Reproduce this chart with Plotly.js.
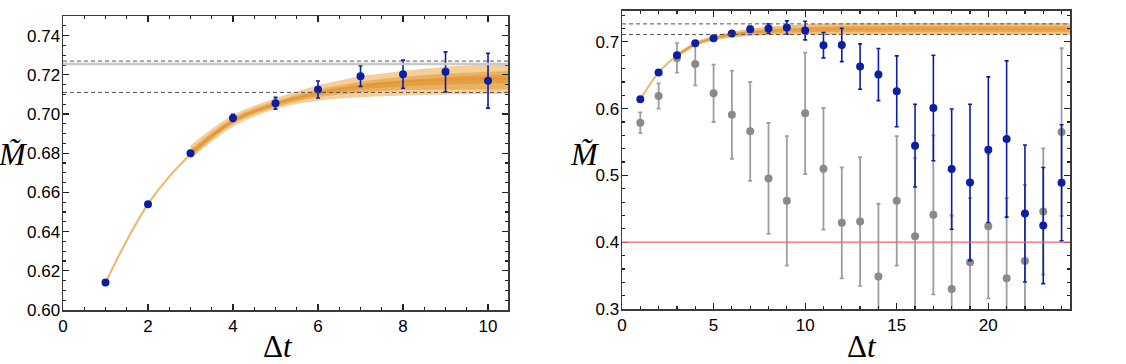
<!DOCTYPE html>
<html>
<head>
<meta charset="utf-8">
<script src="https://cdn.plot.ly/plotly-3.0.1.min.js"></script>
<style>
  html, body { margin: 0; padding: 0; background: #fff; }
  #graph { width: 1126px; height: 364px; }
</style>
</head>
<body>
<div id="graph"></div>
<script>
// --- left panel: data points ---
var tL = [1, 2, 3, 4, 5, 6, 7, 8, 9, 10];
var mL = [0.614, 0.654, 0.680, 0.698, 0.7055, 0.7125, 0.7193, 0.7203, 0.7215, 0.717];
var eL = [0.0008, 0.0008, 0.0012, 0.0018, 0.003, 0.0043, 0.0053, 0.0072, 0.0102, 0.014];

// fit curve (thin line) and bands
var tFitL = [1, 1.5, 2, 2.5, 3, 4, 5, 6, 7, 8, 9, 10, 10.5];
var mFitL = [0.614, 0.6355, 0.654, 0.668, 0.6795, 0.6965, 0.7055, 0.711, 0.7145, 0.7165, 0.7175, 0.718, 0.718];
var tBandL = [3, 4, 5, 6, 7, 8, 9, 10, 10.5];
var outerUpL = [0.684, 0.6995, 0.708, 0.7145, 0.7192, 0.722, 0.724, 0.7252, 0.7255];
var outerLoL = [0.677, 0.6935, 0.7025, 0.7068, 0.7085, 0.7095, 0.710, 0.7102, 0.7103];
var midUpL = [0.682, 0.698, 0.7065, 0.7125, 0.7165, 0.719, 0.7205, 0.7215, 0.722];
var midLoL = [0.6775, 0.695, 0.7035, 0.7085, 0.711, 0.7122, 0.7125, 0.7125, 0.7125];
var coreUpL = [0.681, 0.697, 0.7055, 0.7112, 0.7148, 0.7172, 0.7188, 0.7198, 0.720];
var coreLoL = [0.679, 0.6955, 0.7045, 0.7095, 0.7125, 0.714, 0.715, 0.7156, 0.7158];

// --- right panel: data points ---
var tR = [1, 2, 3, 4, 5, 6, 7, 8, 9, 10, 11, 12, 13, 14, 15, 16, 17, 18, 19, 20, 21, 22, 23, 24];
var mBlue = [0.614, 0.654, 0.680, 0.698, 0.7055, 0.7125, 0.719, 0.720, 0.7215, 0.717, 0.695, 0.6955,
             0.663, 0.651, 0.626, 0.5446, 0.601, 0.5095, 0.4895, 0.5386, 0.5546, 0.443, 0.425, 0.489];
var eBlue = [0.001, 0.001, 0.0015, 0.002, 0.003, 0.004, 0.0045, 0.007, 0.010, 0.014, 0.019, 0.025,
             0.034, 0.039, 0.053, 0.062, 0.079, 0.090, 0.117, 0.109, 0.117, 0.1025, 0.087, 0.087];
var mGray = [0.579, 0.619, 0.676, 0.667, 0.623, 0.591, 0.566, 0.4955, 0.462, 0.593, 0.510, 0.429,
             0.431, 0.3486, 0.462, 0.409, 0.441, 0.330, 0.370, 0.424, 0.346, 0.372, 0.446, 0.565];
var eGray = [0.0155, 0.019, 0.022, 0.032, 0.043, 0.066, 0.074, 0.083, 0.097, 0.091, 0.091, 0.083,
             0.0965, 0.109, 0.097, 0.117, 0.119, 0.110, 0.096, 0.108, 0.120, 0.114, 0.0945, 0.1255];

var tFitR = [1, 1.5, 2, 2.5, 3, 4, 5, 6, 7, 8, 9, 10, 12, 15, 20, 24.5];
var mFitR = [0.614, 0.6355, 0.654, 0.668, 0.6795, 0.6965, 0.7055, 0.711, 0.7145, 0.7165, 0.718, 0.7185, 0.719, 0.719, 0.719, 0.719];
var tBandR = [3, 4, 5, 6, 7, 8, 9, 10, 11, 12, 24.5];
var outerUpR = [0.683, 0.700, 0.709, 0.715, 0.7195, 0.7225, 0.725, 0.7265, 0.7275, 0.728, 0.728];
var outerLoR = [0.676, 0.693, 0.702, 0.7065, 0.709, 0.710, 0.7103, 0.7105, 0.7105, 0.7105, 0.7105];
var innerUpR = [0.681, 0.698, 0.7073, 0.7125, 0.716, 0.7185, 0.7205, 0.722, 0.723, 0.7235, 0.7235];
var innerLoR = [0.678, 0.695, 0.704, 0.709, 0.7115, 0.713, 0.714, 0.7145, 0.715, 0.715, 0.715];

// reference lines
var plateauLines = [0.711, 0.727];
var grayLineL = 0.7255;
var redLineR = 0.4;

var blue = '#0b1fa6';
var grayPt = '#8a8a8a';
var fitColor = '#efb767';

function band(x, lo, hi, color, xa, ya) {
    return [
        { x: x, y: lo, xaxis: xa, yaxis: ya, mode: 'lines', line: { width: 0, shape: 'spline' }, showlegend: false, hoverinfo: 'skip' },
        { x: x, y: hi, xaxis: xa, yaxis: ya, mode: 'lines', line: { width: 0, shape: 'spline' }, fill: 'tonexty', fillcolor: color, showlegend: false, hoverinfo: 'skip' }
    ];
}

var traces = [];
// left fit
traces.push({ x: tFitL, y: mFitL, xaxis: 'x', yaxis: 'y', mode: 'lines', line: { color: fitColor, width: 2, shape: 'spline' }, showlegend: false });
traces = traces.concat(band(tBandL, outerLoL, outerUpL, 'rgba(240,180,100,0.65)', 'x', 'y'));
traces = traces.concat(band(tBandL, midLoL, midUpL, 'rgba(226,148,42,0.50)', 'x', 'y'));
traces = traces.concat(band(tBandL, coreLoL, coreUpL, 'rgba(220,138,32,0.45)', 'x', 'y'));
traces.push({
    x: tL, y: mL, xaxis: 'x', yaxis: 'y', mode: 'markers', showlegend: false,
    marker: { color: blue, size: 8 },
    error_y: { type: 'data', array: eL, color: blue, thickness: 1.6, width: 2 }
});

// right panel
traces.push({
    x: tR, y: mGray, xaxis: 'x2', yaxis: 'y2', mode: 'markers', showlegend: false,
    marker: { color: grayPt, size: 8 },
    error_y: { type: 'data', array: eGray, color: '#9e9e9e', thickness: 1.8, width: 2 }
});
traces.push({ x: tFitR, y: mFitR, xaxis: 'x2', yaxis: 'y2', mode: 'lines', line: { color: fitColor, width: 2, shape: 'spline' }, showlegend: false });
traces = traces.concat(band(tBandR, outerLoR, outerUpR, 'rgba(236,172,85,0.75)', 'x2', 'y2'));
traces = traces.concat(band(tBandR, innerLoR, innerUpR, 'rgba(222,140,35,0.50)', 'x2', 'y2'));
traces.push({
    x: tR, y: mBlue, xaxis: 'x2', yaxis: 'y2', mode: 'markers', showlegend: false,
    marker: { color: blue, size: 8 },
    error_y: { type: 'data', array: eBlue, color: blue, thickness: 1.6, width: 2 }
});

var tickFont = { family: 'Liberation Sans, Arial, sans-serif', size: 17, color: '#000' };

function axisBase(extra) {
    var a = {
        showgrid: false, zeroline: false,
        showline: true, mirror: 'allticks', linecolor: '#3a3a3a', linewidth: 1.5,
        ticks: 'inside', ticklen: 6, tickwidth: 1.2, tickcolor: '#222',
        tickfont: tickFont
    };
    for (var k in extra) a[k] = extra[k];
    return a;
}

var shapes = [];
plateauLines.forEach(function (v) {
    shapes.push({ type: 'line', xref: 'x domain', yref: 'y', x0: 0, x1: 1, y0: v, y1: v, line: { color: '#555', width: 1, dash: '4px,3px' } });
    shapes.push({ type: 'line', xref: 'x2 domain', yref: 'y2', x0: 0, x1: 1, y0: v, y1: v, line: { color: '#555', width: 1, dash: '4px,3px' } });
});
shapes.push({ type: 'line', xref: 'x domain', yref: 'y', x0: 0, x1: 1, y0: grayLineL, y1: grayLineL, line: { color: '#c8c8c8', width: 2.5 } });
shapes.push({ type: 'line', xref: 'x2 domain', yref: 'y2', x0: 0, x1: 1, y0: redLineR, y1: redLineR, line: { color: '#f4606a', width: 1.3 } });

var serif = 'Liberation Serif, DejaVu Serif, serif';
function note(px, py, text, font) {
    return { xref: 'paper', yref: 'paper', x: px / 1126, y: 1 - py / 364, xanchor: 'center', yanchor: 'middle',
             text: text, showarrow: false, font: font };
}
var titleFont = { family: serif, size: 31, color: '#000' };
// y title: italic M with a combining tilde, one glyph
var mFont = { family: serif, size: 32, color: '#000' };
var annotations = [
    note(278, 346, 'Δ<i>t</i>', titleFont),
    note(862, 346, 'Δ<i>t</i>', titleFont),
    note(13, 154, '<i>M\u0303</i>', mFont),
    note(585, 154, '<i>M\u0303</i>', mFont)
];

var layout = {
    width: 1126, height: 364,
    margin: { l: 0, r: 0, t: 0, b: 0 },
    paper_bgcolor: '#fff', plot_bgcolor: '#fff',
    showlegend: false,
    xaxis: axisBase({ domain: [63 / 1126, 508 / 1126], range: [0, 10.47], dtick: 2, tick0: 0,
        minor: { dtick: 0.5, ticklen: 3, tickcolor: '#222', ticks: 'inside' }, anchor: 'y' }),
    yaxis: axisBase({ domain: [54 / 364, 348 / 364], range: [0.60, 0.75], dtick: 0.02, tick0: 0.60, tickformat: '.2f',
        minor: { dtick: 0.005, ticklen: 3, tickcolor: '#222', ticks: 'inside' }, anchor: 'x', ticklabelstandoff: -2 }),
    xaxis2: axisBase({ domain: [622 / 1126, 1070 / 1126], range: [0, 24.46], dtick: 5, tick0: 0,
        minor: { dtick: 1, ticklen: 3, tickcolor: '#222', ticks: 'inside' }, anchor: 'y2' }),
    yaxis2: axisBase({ domain: [55 / 364, 353.5 / 364], range: [0.3, 0.747], dtick: 0.1, tick0: 0.3, tickformat: '.1f',
        minor: { dtick: 0.02, ticklen: 3, tickcolor: '#222', ticks: 'inside' }, anchor: 'x2', ticklabelstandoff: -2 }),
    shapes: shapes,
    annotations: annotations
};

Plotly.newPlot('graph', traces, layout, { staticPlot: true, displayModeBar: false });
</script>
</body>
</html>
